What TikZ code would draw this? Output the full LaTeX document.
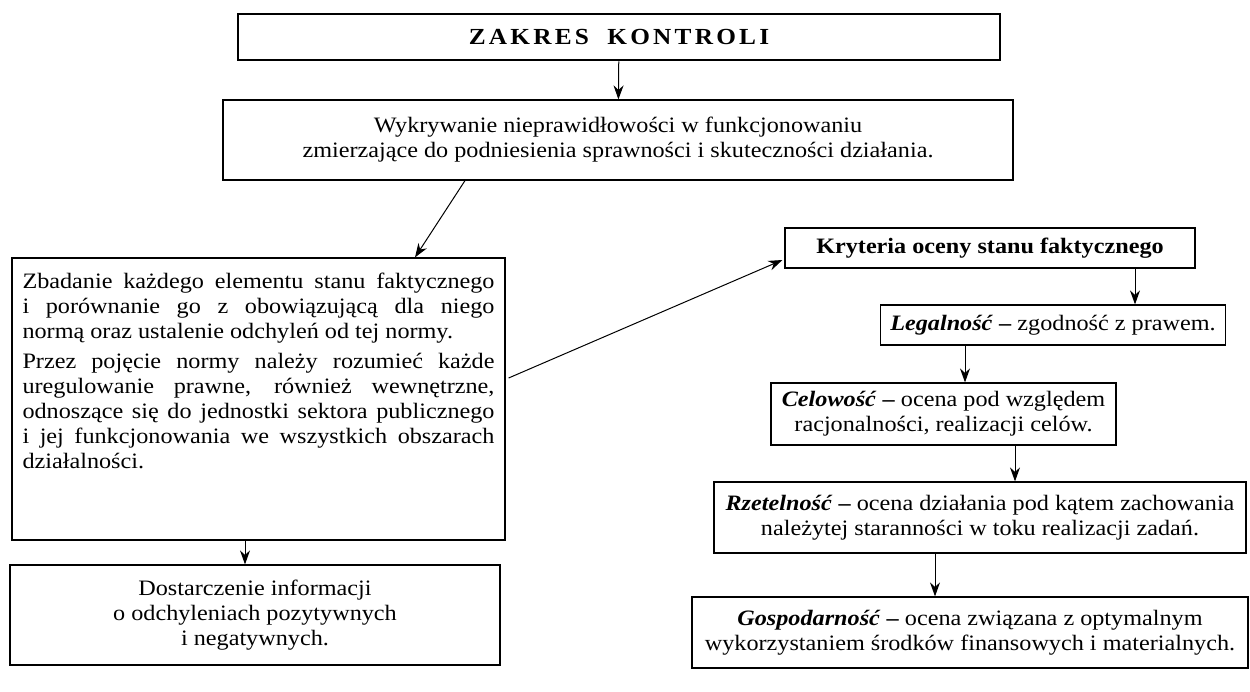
\documentclass[tikz,border=0pt]{standalone}
\usepackage{fontspec}
\setmainfont{Liberation Serif}[FakeStretch=1.1]
\usetikzlibrary{arrows.meta,positioning}
\setlength{\parindent}{0pt}

\begin{document}
\begin{tikzpicture}[x=1pt,y=-1pt,
  kbox/.style={draw,line width=1.2pt,inner sep=0pt,align=center,
               font=\fontsize{22}{25}\selectfont},
  arr/.style={-{Stealth[length=14pt,width=10pt]},line width=1pt}]
  \path[use as bounding box,fill=white] (0,0) rectangle (1250,691);

  % top of the scheme
  \node[kbox,line width=2.6pt,minimum width=762pt,minimum height=46pt,
        font=\fontsize{23}{26}\selectfont\bfseries\addfontfeature{LetterSpace=14}]
        (title) at (619,37) {ZAKRES\hspace{0.8em}KONTROLI};
  \node[kbox,minimum width=790pt,minimum height=80pt] (wykr) at (618,140)
    {Wykrywanie nieprawidłowości w funkcjonowaniu\\
     zmierzające do podniesienia sprawności i skuteczności działania.};

  % left column
  \node[kbox,minimum width=493pt,minimum height=282pt] (zbad) at (258.5,399)
    {\parbox[c][252pt][t]{472pt}{\tolerance=9999\emergencystretch=20pt
     Zbadanie każdego elementu stanu faktycznego\linebreak
     i porównanie go z obowiązującą dla niego\linebreak
     normą oraz ustalenie odchyleń od tej normy.\par\vspace{5pt}
     Przez pojęcie normy należy rozumieć każde\linebreak
     uregulowanie prawne, również wewnętrzne,\linebreak
     odnoszące się do jednostki sektora publicznego\linebreak
     i jej funkcjonowania we wszystkich obszarach\linebreak
     działalności.}};
  \node[kbox,minimum width=490pt,minimum height=100pt] (dost) at (255,615)
    {Dostarczenie informacji\\o odchyleniach pozytywnych\\i negatywnych.};

  % right column
  \node[kbox,minimum width=410pt,minimum height=40pt] (kryt) at (990,248)
    {\textbf{Kryteria oceny stanu faktycznego}};
  \node[kbox,minimum width=345pt,minimum height=40pt] (leg) at (1053,325)
    {\textbf{\textit{Legalność} –} zgodność z prawem.};
  \node[kbox,minimum width=345pt,minimum height=62pt] (cel) at (943.5,414)
    {\textbf{\textit{Celowość} –} ocena pod względem\\
     racjonalności, realizacji celów.};
  \node[kbox,minimum width=532pt,minimum height=71pt] (rzet) at (980,517.5)
    {\textbf{\textit{Rzetelność} –} ocena działania pod kątem zachowania\\
     należytej staranności w toku realizacji zadań.};
  \node[kbox,minimum width=556pt,minimum height=71pt] (gosp) at (970,632.5)
    {\textbf{\textit{Gospodarność} –} ocena związana z optymalnym\\
     wykorzystaniem środków finansowych i materialnych.};

  % connectors
  \draw[arr] (title) -- (wykr);
  \draw[arr] ([xshift=-153pt]wykr.south) -- ([xshift=156.5pt]zbad.north);
  \draw[arr] ([xshift=-13.5pt]zbad.south) -- ([xshift=-13.5pt]zbad.south |- dost.north);
  \draw[arr] ([shift={(3pt,21pt)}]zbad.east) -- ([shift={(-2pt,-12pt)}]kryt.west);
  \draw[arr] ([xshift=145pt]kryt.south) -- ([xshift=145pt]kryt.south |- leg.north);
  \draw[arr] ([xshift=-88pt]leg.south) -- ([xshift=-88pt]leg.south |- cel.north);
  \draw[arr] ([xshift=71.5pt]cel.south) -- ([xshift=71.5pt]cel.south |- rzet.north);
  \draw[arr] ([xshift=-45pt]rzet.south) -- ([xshift=-45pt]rzet.south |- gosp.north);
\end{tikzpicture}
\end{document}
